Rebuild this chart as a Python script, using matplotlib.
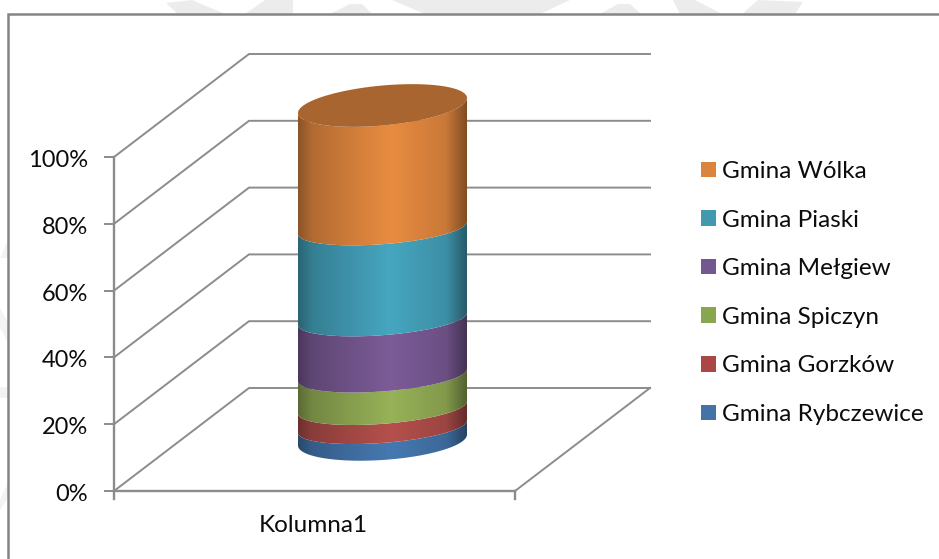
import numpy as np
import matplotlib
matplotlib.use('Agg')
import matplotlib.pyplot as plt
from matplotlib.colors import LinearSegmentedColormap
from matplotlib.patches import Patch, PathPatch, Polygon, Rectangle
from matplotlib.path import Path

# dane (od dolu do gory)
gminy = ['Gmina Rybczewice', 'Gmina Gorzków', 'Gmina Spiczyn', 'Gmina Mełgiew', 'Gmina Piaski', 'Gmina Wólka']
udzialy = [4.0, 5.7, 9.7, 16.8, 27.2, 36.6]
kolory_jasne = ['#4679B2', '#B5504C', '#97B257', '#7C5C98', '#46A6C0', '#E98C41']
kolory_legenda = ['#4572A7', '#AA4643', '#89A54E', '#71588F', '#4198AF', '#DB843D']
kolor_wieka = '#A8652F'
podzialka = [0, 20, 40, 60, 80, 100]
kategoria = 'Kolumna1'

plt.rcParams['font.family'] = ['Lato', 'DejaVu Sans']

SZARY = '#8C8C8C'
TEKST = '#0C0C0C'
X0, Y0 = 114, 491       # poczatek osi
PX_NA_PROC = 3.34
DX, DY = 135, -103      # glebokosc wykresu
SZER = 401              # dlugosc osi x
CX, A = 382.5, 84.5     # walec
Y_DOL = 440             # srodek dolnej podstawy walca
PX_WALEC = 3.345

def y_os(v):
    return Y0 - v * PX_NA_PROC

fig = plt.figure(figsize=(9.39, 5.59), dpi=100)
ax = fig.add_axes([0, 0, 1, 1])
ax.axis('off')

# znak wodny w tle
for wsp in [[(166, 3), (192, 0), (225, 14), (178, 14)], [(245, 14), (265, 0), (293, 0), (293, 14)],
            [(330, 14), (350, 4), (362, 4), (372, 14)], [(392, 0), (570, 0), (540, 14), (425, 14)],
            [(600, 14), (618, 4), (630, 4), (641, 14)], [(673, 0), (695, 0), (722, 14), (680, 14)],
            [(742, 14), (758, 0), (803, 2), (795, 14)]]:
    ax.add_patch(Polygon(wsp, fc='#ECECEC', ec='none', zorder=0))
for wsp in [[(0, 258), (8, 240), (8, 258)], [(0, 308), (8, 322), (8, 342), (0, 328)],
            [(0, 387), (8, 387), (8, 398), (0, 398)], [(0, 500), (8, 482), (8, 498), (0, 510)]]:
    ax.add_patch(Polygon(wsp, fc='#F3F3F3', ec='none', zorder=0))

# ramka
ax.add_patch(Rectangle((8, 14), 960, 600, fc='white', ec='#858585', lw=1.8, zorder=1))

# siatka
for v in podzialka:
    y = y_os(v)
    ax.plot([X0, X0 + DX, X0 + SZER + DX], [y, y + DY, y + DY], color=SZARY, lw=1.4, zorder=2)
    ax.plot([X0 - 9, X0], [y, y], color=SZARY, lw=1.4, zorder=2)
    ax.text(88, y + 3.5, '%d%%' % v, ha='right', va='center', fontsize=17, color=TEKST, zorder=5)
ax.plot([X0 + SZER, X0 + SZER + DX], [Y0, Y0 + DY], color=SZARY, lw=1.4, zorder=2)
ax.plot([X0, X0], [y_os(100), Y0 + 8], color=SZARY, lw=1.7, zorder=2)
ax.plot([X0, X0 + SZER], [Y0, Y0], color=SZARY, lw=1.7, zorder=2)
ax.plot([X0 + SZER, X0 + SZER], [Y0, Y0 + 8], color=SZARY, lw=1.7, zorder=2)
ax.text(313.5, 526, kategoria, ha='center', va='center', fontsize=17.5, color=TEKST, zorder=5)

# walec
def elipsa(yc, t, skos, b):
    return CX + A * np.cos(t), yc - skos * np.cos(t) + b * np.sin(t)

def kontur_segmentu(y1, y2, krawedz1, krawedz2):
    # przednia polowka dolnej krawedzi i z powrotem po gornej
    tp = np.linspace(0, np.pi, 121)
    x1, yy1 = elipsa(y1, tp, *krawedz1)
    x2, yy2 = elipsa(y2, tp[::-1], *krawedz2)
    return np.column_stack([np.r_[x1, x2], np.r_[yy1, yy2]])

KRAWEDZ_DOL = (5.5, 20)
KRAWEDZ_SRODEK = (6.2, 16.3)
KRAWEDZ_GORA = (7.5, 20)

gradient = np.linspace(0, 1, 340).reshape(1, -1)
dol = 0
for i, (u, kol) in enumerate(zip(udzialy, kolory_jasne)):
    y1 = Y_DOL - dol * PX_WALEC
    y2 = Y_DOL - (dol + u) * PX_WALEC
    k1 = KRAWEDZ_DOL if i == 0 else KRAWEDZ_SRODEK
    k2 = KRAWEDZ_GORA if i == len(udzialy) - 1 else KRAWEDZ_SRODEK
    dol += u
    rgb = np.array(matplotlib.colors.to_rgb(kol))
    cmap = LinearSegmentedColormap.from_list('w%d' % i, [
        (0.0, rgb * 0.6), (0.08, rgb * 0.76), (0.3, rgb * 0.88), (0.55, rgb),
        (0.88, rgb * 0.86), (1.0, rgb * 0.55)])
    im = ax.imshow(gradient, extent=[CX - A, CX + A, 500, 60], cmap=cmap, vmin=0, vmax=1,
                   aspect='auto', zorder=3, interpolation='bilinear')
    clip = PathPatch(Path(kontur_segmentu(y1, y2, k1, k2)), transform=ax.transData, fc='none', ec='none')
    ax.add_patch(clip)
    im.set_clip_path(clip)

# wieko walca
xe, ye = elipsa(Y_DOL - dol * PX_WALEC, np.linspace(0, 2 * np.pi, 241), *KRAWEDZ_GORA)
ax.fill(xe, ye, color=kolor_wieka, lw=0, zorder=4)
ax.set_xlim(0, 939)
ax.set_ylim(559, 0)

# legenda
uchwyty = [Patch(fc=k, ec='none') for k in kolory_legenda[::-1]]
leg = ax.legend(uchwyty, gminy[::-1], loc='upper left', bbox_to_anchor=(701 / 939, 1 - 161 / 559),
                frameon=False, fontsize=17.5, handlelength=0.615, handleheight=0.62, handletextpad=0.25,
                labelspacing=1.135, borderpad=0, borderaxespad=0, labelcolor=TEKST)
leg.set_zorder(5)

fig.savefig('out.png', dpi=100, facecolor='white')
